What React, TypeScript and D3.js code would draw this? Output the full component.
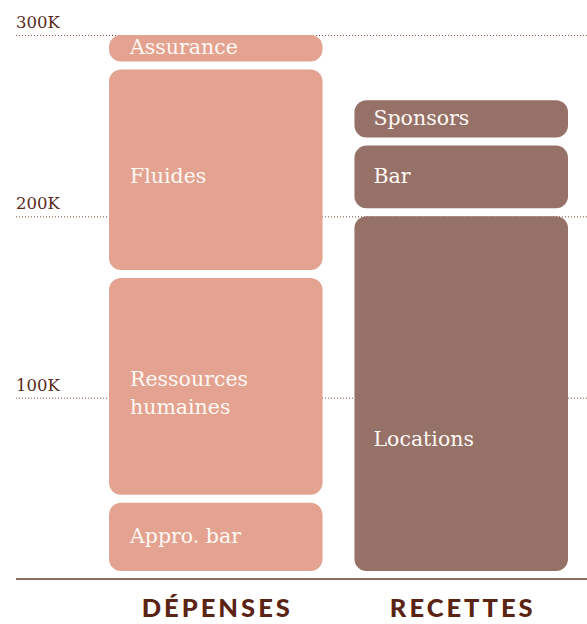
import React, { useEffect, useRef } from "react"
import * as d3 from "d3"

// chart data (values in euros)
const categories = ["DÉPENSES", "RECETTES"]
const depensesLabels = ["Appro. bar", "Ressources humaines", "Fluides", "Assurance"]
const depensesValues = [42000, 124000, 115000, 19000]
const recettesLabels = ["Locations", "Bar", "Sponsors"]
const recettesValues = [200000, 39000, 25000]
const tickValues = [100000, 200000, 300000]
const tickLabels = ["100K", "200K", "300K"]

const colors = ["#e3a390", "#967167"]

function StackChart({ width, height }: { width: number; height: number }) {
  const svgRef = useRef<SVGSVGElement>(null)

  useEffect(() => {
    document.body.style.margin = "0"
    const svg = d3.select(svgRef.current)
    svg.selectAll("*").remove()

    const left = 16
    const x = d3.scaleBand().domain(categories).range([109, 568]).paddingInner(0.13)
    const y = d3.scaleLinear().domain([0, 300000]).range([579, 35])
    const gap = 8

    // dotted gridlines + tick labels
    const grid = svg.append("g")
    grid.selectAll("line")
      .data(tickValues)
      .enter()
      .append("line")
      .attr("x1", left)
      .attr("x2", width)
      .attr("y1", (d) => y(d) + 0.5)
      .attr("y2", (d) => y(d) + 0.5)
      .attr("stroke", "#7a4a3a")
      .attr("stroke-width", 1)
      .attr("stroke-dasharray", "1,2")
    grid.selectAll("text")
      .data(tickValues)
      .enter()
      .append("text")
      .attr("x", left)
      .attr("y", (d) => y(d) - 7)
      .attr("fill", "#5a2a1c")
      .style("font-family", "DejaVu Serif")
      .style("font-size", "16.5px")
      .text((d, i) => tickLabels[i])

    const series = [
      { cat: categories[0], labels: depensesLabels, values: depensesValues },
      { cat: categories[1], labels: recettesLabels, values: recettesValues },
    ]

    series.forEach((s, si) => {
      let acc = 0
      const segs = s.values.map((v, i) => {
        const seg = { label: s.labels[i], y0: acc, y1: acc + v }
        acc += v
        return seg
      })
      const g = svg.append("g")
      g.selectAll("rect")
        .data(segs)
        .enter()
        .append("rect")
        .attr("x", x(s.cat)!)
        .attr("width", x.bandwidth())
        .attr("y", (d) => y(d.y1))
        .attr("height", (d) => y(d.y0) - y(d.y1) - gap)
        .attr("rx", 12)
        .attr("fill", colors[si])

      const lx = x(s.cat)! + (si === 0 ? 21 : 19)
      const txt = g.selectAll("text.lbl")
        .data(segs)
        .enter()
        .append("text")
        .attr("class", "lbl")
        .attr("x", lx)
        .attr("y", (d) => {
          const mid = (y(d.y1) + y(d.y0) - gap) / 2
          if (d.label === "Locations") return mid + 45
          return d.y1 - d.y0 > 60000 ? mid + 6 : mid - 1
        })
        .attr("fill", "#fff8f4")
        .style("font-family", "DejaVu Serif")
        .style("font-size", "20.5px")
        .style("font-weight", "300")
      txt.each(function (d) {
        const words = d.label === "Ressources humaines" ? ["Ressources", "humaines"] : [d.label]
        const t = d3.select(this)
        words.forEach((w, wi) => {
          t.append("tspan")
            .attr("x", lx)
            .attr("dy", wi === 0 ? (0.35 - (words.length - 1) * 0.68) + "em" : "1.36em")
            .text(w)
        })
      })
    })

    // baseline
    svg.append("line")
      .attr("x1", left)
      .attr("x2", width)
      .attr("y1", y(0))
      .attr("y2", y(0))
      .attr("stroke", "#6b3a2c")
      .attr("stroke-width", 1.5)

    // category labels
    svg.append("g")
      .selectAll("text")
      .data(categories)
      .enter()
      .append("text")
      .attr("x", (d) => x(d)! + x.bandwidth() / 2 + 1.5)
      .attr("y", 617)
      .attr("text-anchor", "middle")
      .attr("fill", "#5a2313")
      .style("font-family", "Lato")
      .style("font-weight", "900")
      .style("font-size", "25.5px")
      .style("letter-spacing", "3px")
      .text((d) => d)
  }, [width, height])

  return <svg ref={svgRef} width={width} height={height} style={{ display: "block" }}></svg>
}

export default function App() {
  return <StackChart width={587} height={624} />
}
